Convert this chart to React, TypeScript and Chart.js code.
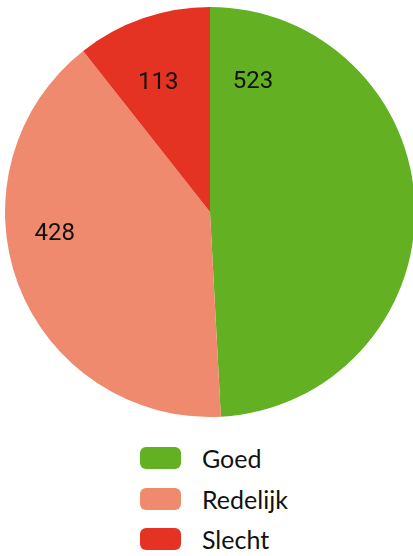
import React, { useEffect, useRef } from "react";
import { Chart, registerables } from "chart.js";

Chart.register(...registerables);

const categories = ["Goed", "Redelijk", "Slecht"];
const values = [523, 428, 113];
const colors = ["#63B022", "#EF8A6E", "#E53323"];
// label placement within each slice: fraction along the arc, fraction of radius
const labelAngleFrac = [0.103, 0.586, 0.43];
const labelRadiusFrac = [0.67, 0.765, 0.68];

const labelPlugin = {
  id: "sliceLabels",
  afterDatasetsDraw(chart: any) {
    const ctx = chart.ctx;
    const meta = chart.getDatasetMeta(0);
    ctx.save();
    ctx.font = "24px Roboto";
    ctx.fillStyle = "#111";
    ctx.textAlign = "center";
    ctx.textBaseline = "middle";
    meta.data.forEach((arc: any, i: number) => {
      const p = arc.getProps(["x", "y", "startAngle", "endAngle", "outerRadius"], true);
      const a = p.startAngle + (p.endAngle - p.startAngle) * labelAngleFrac[i];
      const r = p.outerRadius * labelRadiusFrac[i];
      ctx.fillText(String(values[i]), p.x + Math.cos(a) * r, p.y + Math.sin(a) * r);
    });
    ctx.restore();
  },
};

export default function App() {
  const ref = useRef<HTMLCanvasElement>(null);
  useEffect(() => {
    document.body.style.margin = "0";
    const chart = new Chart(ref.current!, {
      type: "pie",
      data: {
        labels: categories,
        datasets: [{ data: values, backgroundColor: colors, borderWidth: 0 }],
      },
      options: {
        responsive: false,
        animation: false,
        layout: { padding: { left: 5, right: 5, top: 7, bottom: 5 } },
        plugins: { legend: { display: false }, tooltip: { enabled: false } },
      },
      plugins: [labelPlugin],
    });
    return () => chart.destroy();
  }, []);
  return (
    <div style={{ width: 413, height: 556, overflow: "hidden", position: "relative" }}>
      <canvas ref={ref} width={420} height={422} style={{ display: "block" }} />
      <div style={{ position: "absolute", left: 140, top: 438, fontFamily: "Lato, sans-serif", fontSize: 25, color: "#111" }}>
        {categories.map((c, i) => (
          <div key={c} style={{ display: "flex", alignItems: "center", height: 40.5 }}>
            <span style={{ display: "inline-block", width: 41, height: 22, borderRadius: 6, background: colors[i], marginRight: 21 }} />
            <span>{c}</span>
          </div>
        ))}
      </div>
    </div>
  );
}
